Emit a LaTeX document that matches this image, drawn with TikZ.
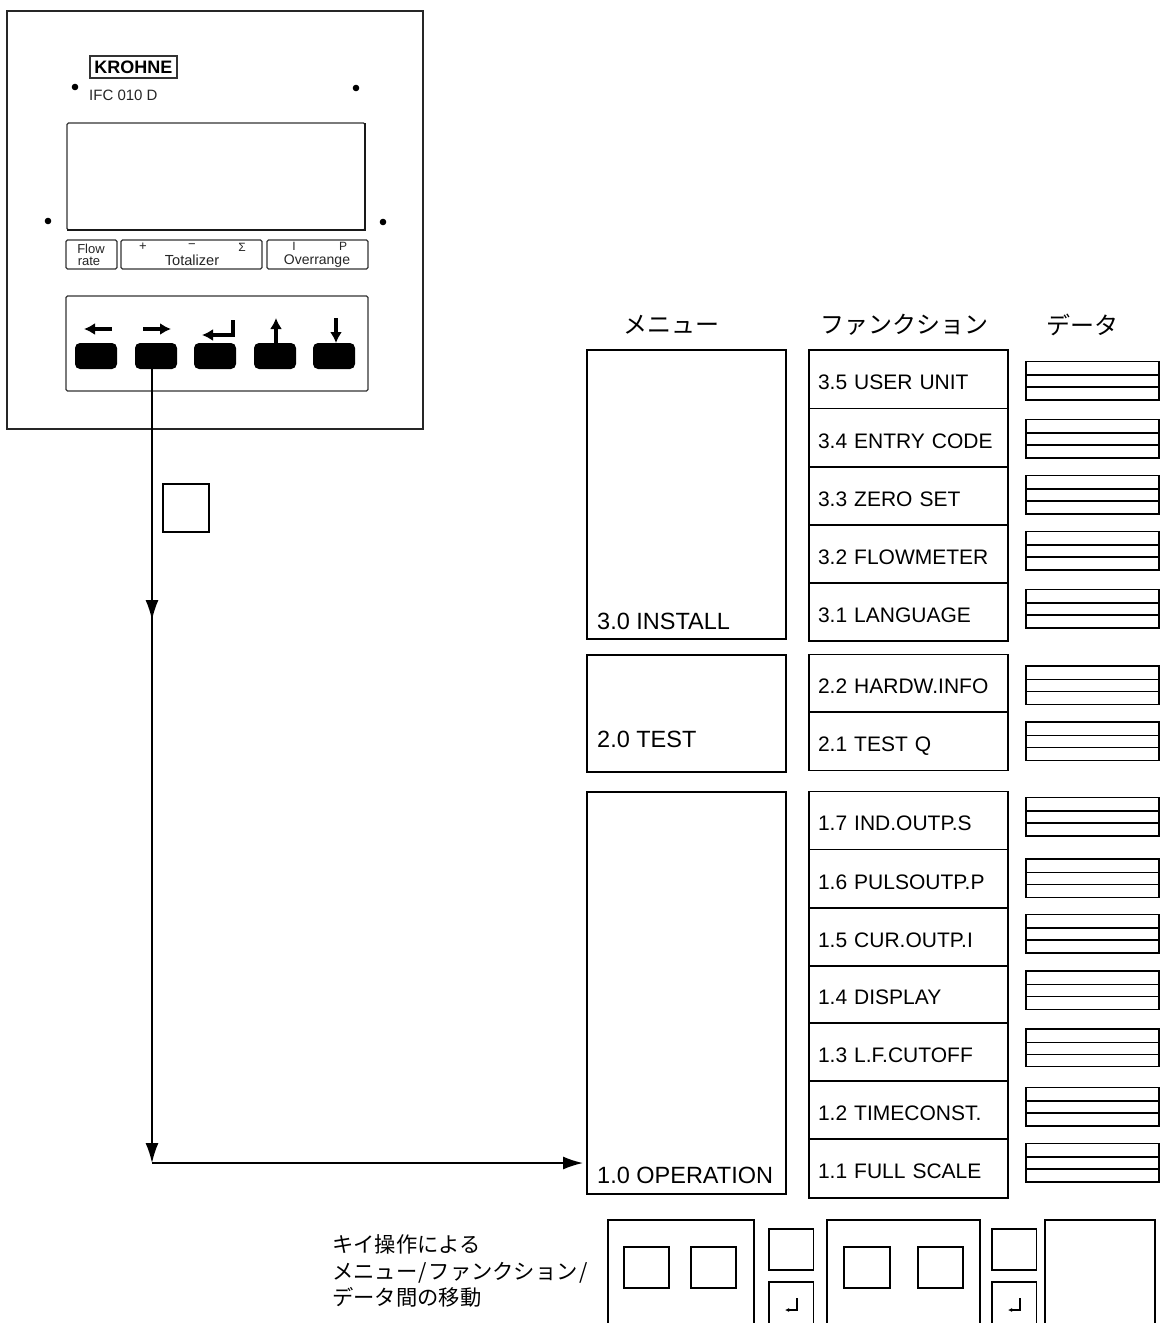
\documentclass[tikz,border=0pt]{standalone}
\usepackage{fontspec}
\setmainfont{Liberation Sans}
\newfontfamily\cjkfont{Noto Sans CJK JP}
\usetikzlibrary{arrows.meta,positioning,calc}
\tikzset{
    boxline/.style={draw=black,line width=1.3pt,inner sep=0pt,outer sep=0pt,anchor=north west},
    panelbox/.style={boxline,draw=black!80,line width=1.1pt,rounded corners=1.5pt},
    menubox/.style={boxline,minimum width=199pt},
    menutext/.style={anchor=west,inner sep=0pt,font=\fontsize{23.5}{26}\selectfont},
    funcbox/.style={boxline,line width=1.7pt,minimum width=199pt,text width=181pt,inner xsep=9pt,text height=20.5pt,text depth=0pt,font=\fontsize{21}{24}\selectfont},
    databox/.style={boxline,line width=1.4pt,minimum width=133pt},
    keycap/.style={fill=black,rounded corners=5pt,inner sep=0pt,outer sep=0pt,minimum width=42pt,minimum height=26pt},
    keyarrow/.style={line width=3.2pt,-{Latex[length=11pt,width=12pt]}},
    flowline/.style={line width=1.6pt,-{Latex[length=20pt,width=13pt]}},
    returnmark/.style={line width=1.2pt,-{Latex[length=4pt,width=4pt]}},
    paneltext/.style={text=black!85,inner sep=0pt,font=\fontsize{13}{13}\selectfont},
    headtext/.style={inner sep=0pt,font=\cjkfont\fontsize{24}{24}\selectfont}
}
\begin{document}
\begin{tikzpicture}[x=1pt,y=-1pt]
\clip (0,0) rectangle (1162,1323);
\fill[white] (0,0) rectangle (1162,1323);

\node[boxline,draw=black!85,line width=1.1pt,minimum width=416pt,minimum height=418pt] (panel) at (7,11) {};
\node[boxline,draw=black!80,line width=1.6pt,minimum width=87pt,minimum height=22pt,font=\bfseries\fontsize{18}{18}\selectfont] (logo) at (90,56) {KROHNE};
\node[paneltext,anchor=west,font=\fontsize{15}{15}\selectfont] (model) at (89,95) {IFC 010 D};
\node[panelbox,minimum width=298pt,minimum height=107pt] (screen) at (67,123) {};
\draw[black!90,line width=2pt] (screen.north east) -- (screen.south east) -- (screen.south west);
\foreach \x/\y in {75/87,356/88,48/221,383/222}
    \fill[black] (\x,\y) circle (3.3pt);

\node[panelbox,minimum width=51pt,minimum height=29pt] (flowbox) at (66,240) {};
\node[panelbox,minimum width=141pt,minimum height=29pt] (totalbox) at (121,240) {};
\node[panelbox,minimum width=101pt,minimum height=29pt] (overbox) at (267,240) {};
\node[paneltext] (flowa) at (91,249) {Flow};
\node[paneltext] (flowb) at (89,261) {rate};
\node[paneltext] (totala) at (143,247) {+};
\node[paneltext] (totalb) at (192,246) {−};
\node[paneltext,font=\fontsize{12}{12}\selectfont] (totalc) at (242,247) {Σ};
\node[paneltext,font=\fontsize{14.6}{14.6}\selectfont] (totald) at (192,260) {Totalizer};
\node[paneltext,font=\fontsize{12}{12}\selectfont] (overa) at (294,246.5) {I};
\node[paneltext,font=\fontsize{12}{12}\selectfont] (overb) at (343,246.5) {P};
\node[paneltext,font=\fontsize{14}{14}\selectfont] (overc) at (317,261) {Overrange};

\node[panelbox,minimum width=302pt,minimum height=95pt] (keypad) at (66,296) {};
\foreach \n/\x in {a/96,b/156,c/215,d/275,e/334}
    \node[keycap] (key\n) at (\x,356) {};
\draw[keyarrow] (112,329) -- (84,329);
\draw[keyarrow] (143,329) -- (171,329);
\draw[keyarrow] (233,320) -- (233,335) -- (202,335);
\draw[keyarrow] (276,343) -- (276,318);
\draw[keyarrow] (336,318) -- (336,343);

\node[boxline,minimum width=46pt,minimum height=48pt] (movekey) at (163,484) {};

\node[headtext] (headmenu) at (671,325) {メニュー};
\node[headtext] (headfunc) at (904,325) {ファンクション};
\node[headtext] (headdata) at (1082,325) {データ};

\foreach \n/\y/\h in {3/350/289,2/655/117,1/792/402}
    \node[menubox,minimum height=\h pt] (menu\n) at (587,\y) {};
\node[menutext] (menutext3) at (597,621) {3.0 INSTALL};
\node[menutext] (menutext2) at (597,739) {2.0 TEST};
\node[menutext] (menutext1) at (597,1175) {1.0 OPERATION};

\foreach \n/\y/\h/\t in {35/350/58.5/3.5 USER UNIT,34/408.5/58.5/3.4 ENTRY CODE,33/467/58/3.3 ZERO SET,
    32/525/58/3.2 FLOWMETER,31/583/58/3.1 LANGUAGE,22/654.5/57.5/2.2 HARDW.INFO,21/712/58.5/2.1 TEST Q,
    17/791.5/58/1.7 IND.OUTP.S,16/849.5/58.5/1.6 PULSOUTP.P,15/908/58/1.5 CUR.OUTP.I,14/966/57/1.4 DISPLAY,
    13/1023/58/1.3 L.F.CUTOFF,12/1081/58/1.2 TIMECONST.,11/1139/59/1.1 FULL SCALE}
    \node[funcbox,minimum height=\h pt] (func\n) at (809,\y) {\t};

\foreach \n/\y/\h in {35/361.5/38.5,34/419.5/38.5,33/475.5/38.5,32/531.5/38.5,31/589.5/38.5,22/666/38.5,21/722/38.5,
    17/797.5/38.5,16/859/38.5,15/914.5/38.5,14/971/38.5,13/1029/37.5,12/1087.5/38.5,11/1143.5/38.5} {
    \node[databox,minimum height=\h pt] (data\n) at (1026,\y) {};
    \draw[line width=1.4pt] ($(data\n.north west)+(0,13.5)$) -- ($(data\n.north east)+(0,13.5)$);
    \draw[line width=1.4pt] ($(data\n.north west)+(0,25.5)$) -- ($(data\n.north east)+(0,25.5)$);
}

\coordinate (midtip) at (152,620);
\coordinate (turn) at (152,1163);
\draw[flowline] (keyb.south -| turn) -- (turn);
\draw[flowline] (keyb.south -| turn) -- (midtip);
\draw[flowline,shorten >=4pt] (turn) -- (menu1.west |- turn);

\node[inner sep=0pt,anchor=west,align=left,font=\cjkfont\fontsize{21.3}{26.5}\selectfont] (caption) at (332,1271)
    {キイ操作による\\メニュー\hspace{1.5pt}/\hspace{1.5pt}ファンクション\hspace{1.5pt}/\\データ間の移動};

\foreach \n/\x/\w in {a/608/146,b/827/153,c/1045/110}
    \node[boxline,line width=1.1pt,minimum width=\w pt,minimum height=125pt] (step\n) at (\x,1220) {};
\foreach \n/\x/\w in {a/624/45,b/691/45,c/844/46,d/918/45}
    \node[boxline,line width=1.1pt,minimum width=\w pt,minimum height=41pt] (stepkey\n) at (\x,1247) {};
\foreach \n/\x in {a/769,b/992} {
    \node[boxline,line width=1.1pt,minimum width=44.5pt,minimum height=41pt] (upkey\n) at (\x,1229) {};
    \node[boxline,line width=1.1pt,minimum width=44.5pt,minimum height=60pt] (enterkey\n) at (\x,1282) {};
    \draw[returnmark] ($(enterkey\n.north west)+(28,16)$) -- ++(0,12) -- ++(-12,0);
}
\end{tikzpicture}
\end{document}
